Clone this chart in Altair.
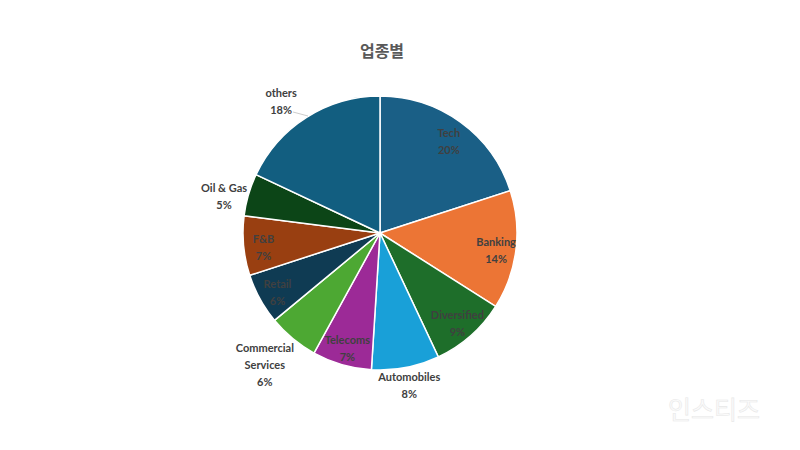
import altair as alt
import pandas as pd

# 업종별 비중 (%), clockwise from 12 o'clock
sectors = ["Tech", "Banking", "Diversified", "Automobiles", "Telecoms",
           "Commercial\nServices", "Retail", "F&B", "Oil & Gas", "others"]
shares = [20, 14, 9, 8, 7, 6, 6, 7, 5, 18]
colors = ["#1a5f86", "#ec7535", "#1e6e2a", "#19a0d8", "#9c2a97",
          "#4da833", "#0f3b53", "#993f11", "#0c4517", "#125e80"]

df = pd.DataFrame({"sector": sectors, "share": shares})
df["idx"] = range(len(df))
df["label"] = df["sector"] + "\n" + df["share"].astype(str) + "%"

CX, CY, R = 372, 225, 137
THETA = alt.Scale(domain=[0, 100], range=[0, 6.283185307])

pie = alt.Chart(df).mark_arc(outerRadius=R, stroke="white", strokeWidth=1.5).encode(
    theta=alt.Theta("share:Q", stack=True, scale=THETA),
    order=alt.Order("idx:Q"),
    color=alt.Color("sector:N", sort=None,
                    scale=alt.Scale(domain=sectors, range=colors), legend=None),
    x=alt.value(CX), y=alt.value(CY),
)

# label placement: inside labels at a fixed radius, outside ones pushed out
lab = alt.Chart(df).transform_window(
    cum="sum(share)", sort=[alt.SortField("idx")]
).transform_calculate(
    mid="datum.cum - datum.share / 2"
    " + (datum.sector == 'others' ? -1.3 : datum.sector == 'Oil & Gas' ? -0.9 : 0)",
    lr="datum.sector == 'Automobiles' ? 156 : datum.sector == 'Commercial\\nServices' ? 176 :"
       " datum.sector == 'Oil & Gas' ? 160 : datum.sector == 'others' ? 164 : 117",
    grp="indexof(datum.sector, '\\n') >= 0 ? 'three' : datum.lr > 120 ? 'out' : 'in'",
)

txt = dict(font="Lato", fontSize=11, fontWeight="bold", color="#404040",
           lineBreak="\n", lineHeight=17, align="center", baseline="middle")
enc = dict(
    theta=alt.Theta("mid:Q", stack=None, scale=THETA),
    radius=alt.Radius("lr:Q", scale=None),
    text="label:N",
    x=alt.value(CX), y=alt.value(CY),
)
lab_in = lab.transform_filter("datum.grp == 'in'").mark_text(dy=-4.5, **txt).encode(**enc)
lab_out = lab.transform_filter("datum.grp == 'out'").mark_text(dy=-8.5, **txt).encode(**enc)
lab_3 = lab.transform_filter("datum.grp == 'three'").mark_text(dy=-20, dx=-3, **txt).encode(**enc)

leader = alt.Chart(pd.DataFrame({"a": [0]})).mark_rule(color="#bfbfbf", strokeWidth=0.8).encode(
    x=alt.value(285), x2=alt.value(300), y=alt.value(104), y2=alt.value(108),
)

title = alt.Chart(pd.DataFrame({"t": ["업종별"]})).mark_text(
    font="Noto Sans CJK KR", fontSize=16, fontWeight="bold", color="#595959"
).encode(text="t:N", x=alt.value(374), y=alt.value(44))

mark = alt.Chart(pd.DataFrame({"t": ["인스티즈"]})).mark_text(
    font="Noto Sans CJK KR", fontSize=25, color="#fbfbfb", stroke="#e8e8e8", strokeWidth=0.6
).encode(text="t:N", x=alt.value(706), y=alt.value(403))

chart = alt.layer(pie, lab_in, lab_out, lab_3, leader, title, mark).properties(
    width=784, height=434, padding=0,
    autosize=alt.AutoSizeParams(type="fit", contains="padding"),
    background="white",
).configure_view(strokeWidth=0)

chart.save("out.html", embed_options={"renderer": "svg", "actions": False})
